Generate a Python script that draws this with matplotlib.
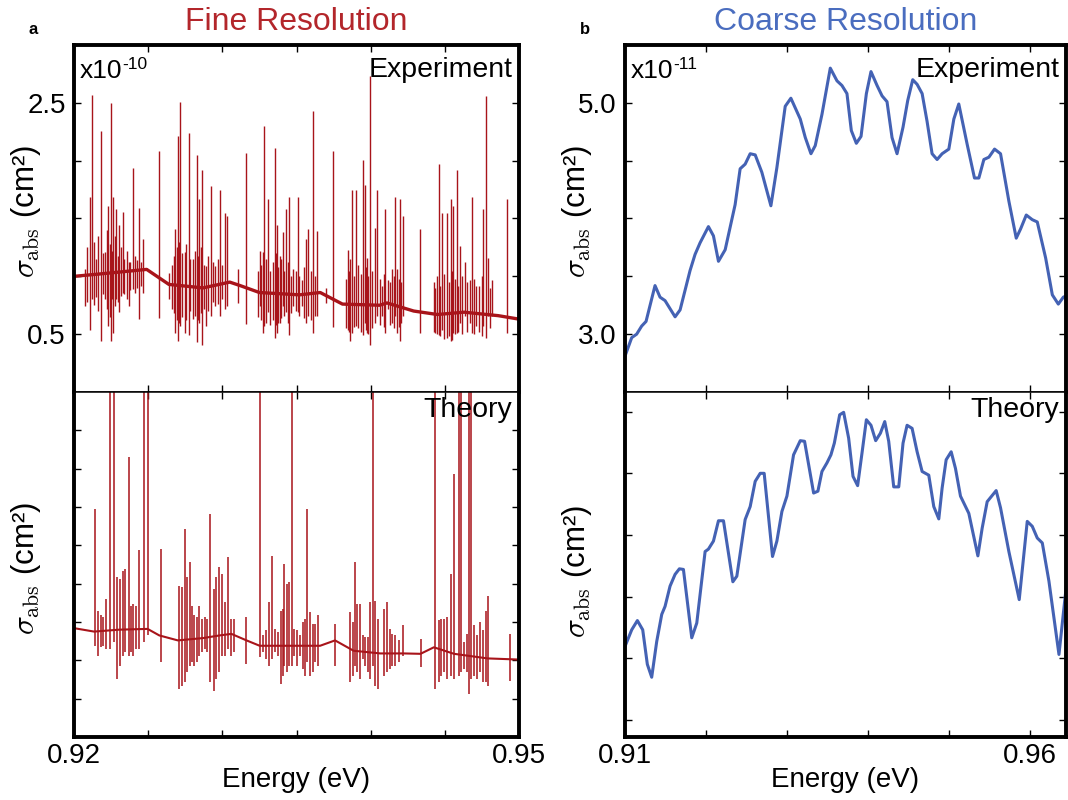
import numpy as np
import matplotlib.pyplot as plt

plt.rcParams['font.family'] = ['Liberation Sans', 'DejaVu Sans']
plt.rcParams['mathtext.fontset'] = 'cm'

RED = '#a8141a'
BLUE = '#4462b4'

# ---- fine resolution, experiment (x1e-10 cm^2) ----
fine_exp_base_e = [0.92000, 0.92170, 0.92490, 0.92640, 0.92870, 0.93050, 0.93120, 0.93250,
                   0.93520, 0.93660, 0.93810, 0.94060, 0.94110, 0.94290, 0.94450, 0.94630,
                   0.94860, 0.95000]
fine_exp_base_v = [1.00, 1.02, 1.06, 0.93, 0.90, 0.95, 0.92, 0.86,
                   0.84, 0.86, 0.76, 0.75, 0.77, 0.70, 0.67, 0.69,
                   0.66, 0.63]
fine_exp_spike_e = [0.92074, 0.92106, 0.92120, 0.92181, 0.92210, 0.92232, 0.92248, 0.92266,
                    0.92282, 0.92305, 0.92327, 0.92368, 0.92395, 0.92440, 0.92463, 0.92571,
                    0.92643, 0.92684, 0.92700, 0.92716, 0.92745, 0.92772, 0.92801, 0.92828,
                    0.92846, 0.92865, 0.92892, 0.92921, 0.92953, 0.92986, 0.93016, 0.93031,
                    0.93106, 0.93158, 0.93252, 0.93271, 0.93282, 0.93309, 0.93354, 0.93370,
                    0.93388, 0.93410, 0.93428, 0.93451, 0.93478, 0.93512, 0.93535, 0.93564,
                    0.93580, 0.93609, 0.93636, 0.93699, 0.93745, 0.93846, 0.93862, 0.93877,
                    0.93902, 0.93948, 0.93959, 0.93975, 0.93995, 0.94026, 0.94042, 0.94076,
                    0.94099, 0.94114, 0.94144, 0.94166, 0.94178, 0.94196, 0.94218, 0.94331,
                    0.94437, 0.94460, 0.94482, 0.94516, 0.94539, 0.94557, 0.94579, 0.94602,
                    0.94634, 0.94670, 0.94686, 0.94708, 0.94760, 0.94776, 0.94791, 0.94821,
                    0.94916]
fine_exp_spike_top = [1.06, 1.69, 2.57, 2.26, 1.21, 1.61, 2.50, 1.69,
                      1.58, 1.44, 1.56, 1.12, 1.94, 1.59, 1.32, 2.08,
                      1.03, 1.41, 2.21, 2.51, 1.21, 2.24, 1.15, 2.05,
                      1.67, 1.92, 1.09, 1.78, 1.09, 1.75, 1.55, 1.52,
                      1.06, 2.07, 1.22, 1.21, 2.30, 1.67, 2.11, 1.44,
                      1.18, 1.38, 1.58, 1.69, 1.06, 1.69, 0.97, 1.32,
                      1.41, 2.43, 1.39, 0.90, 2.08, 1.23, 1.15, 1.75,
                      1.75, 2.01, 1.79, 1.16, 2.73, 1.42, 1.75, 0.92,
                      1.58, 0.97, 1.06, 1.69, 1.06, 1.67, 1.52, 1.41,
                      0.90, 1.97, 1.55, 1.55, 1.67, 1.61, 1.92, 1.26,
                      1.12, 0.97, 1.69, 0.92, 1.58, 2.56, 1.16, 0.97,
                      1.67]
fine_exp_spike_bot = [0.74, 0.54, 0.80, 0.44, 0.80, 0.57, 0.44, 0.51,
                      0.80, 0.69, 0.86, 0.74, 0.89, 0.63, 0.86, 0.64,
                      0.80, 0.51, 0.44, 0.57, 0.51, 0.49, 0.63, 0.43,
                      0.60, 0.41, 0.57, 0.66, 0.74, 0.66, 0.72, 0.74,
                      0.77, 0.59, 0.74, 0.51, 0.57, 0.69, 0.47, 0.51,
                      0.60, 0.74, 0.69, 0.49, 0.74, 0.69, 0.74, 0.60,
                      0.66, 0.51, 0.66, 0.77, 0.56, 0.54, 0.44, 0.51,
                      0.57, 0.49, 0.60, 0.51, 0.41, 0.60, 0.66, 0.66,
                      0.51, 0.72, 0.60, 0.66, 0.51, 0.44, 0.66, 0.51,
                      0.51, 0.49, 0.54, 0.47, 0.44, 0.51, 0.51, 0.60,
                      0.66, 0.60, 0.51, 0.57, 0.57, 0.47, 0.66, 0.66,
                      0.51]
# small lines forming the dense noisy band around the background
fine_exp_small_e = [0.92090, 0.92135, 0.92150, 0.92165, 0.92195, 0.92220, 0.92240, 0.92258,
                    0.92275, 0.92295, 0.92315, 0.92340, 0.92355, 0.92380, 0.92410, 0.92425,
                    0.92452, 0.92660, 0.92675, 0.92692, 0.92708, 0.92730, 0.92758, 0.92785,
                    0.92815, 0.92838, 0.92855, 0.92878, 0.92905, 0.92935, 0.92970, 0.93000,
                    0.93240, 0.93262, 0.93295, 0.93320, 0.93340, 0.93362, 0.93378, 0.93398,
                    0.93418, 0.93440, 0.93465, 0.93495, 0.93520, 0.93550, 0.93595, 0.93622,
                    0.93835, 0.93855, 0.93890, 0.93915, 0.93935, 0.93968, 0.93985, 0.94010,
                    0.94060, 0.94088, 0.94130, 0.94155, 0.94188, 0.94205, 0.94425, 0.94450,
                    0.94470, 0.94495, 0.94525, 0.94548, 0.94568, 0.94590, 0.94615, 0.94650,
                    0.94695, 0.94730, 0.94750, 0.94805]
fine_exp_small_top = [1.25, 1.30, 1.15, 1.35, 1.20, 1.40, 1.28, 1.22,
                      1.35, 1.18, 1.25, 1.15, 1.22, 1.12, 1.18, 1.14,
                      1.12, 1.10, 1.18, 1.25, 1.30, 1.20, 1.28, 1.15,
                      1.22, 1.18, 1.25, 1.10, 1.18, 1.12, 1.15, 1.10,
                      1.05, 1.10, 1.15, 1.05, 1.12, 1.20, 1.08, 1.15,
                      1.05, 1.12, 1.00, 1.05, 1.00, 1.08, 1.05, 1.00,
                      0.98, 1.05, 1.00, 1.10, 1.02, 1.08, 1.00, 1.05,
                      0.98, 1.02, 0.95, 1.00, 0.98, 0.95, 0.95, 1.00,
                      0.92, 1.02, 0.95, 1.05, 0.98, 0.92, 1.00, 0.95,
                      0.98, 0.92, 1.00, 0.90]
fine_exp_small_bot = [0.78, 0.75, 0.82, 0.70, 0.85, 0.72, 0.65, 0.80,
                      0.74, 0.78, 0.83, 0.85, 0.80, 0.88, 0.86, 0.90,
                      0.92, 0.72, 0.68, 0.62, 0.60, 0.65, 0.62, 0.70,
                      0.66, 0.62, 0.68, 0.72, 0.70, 0.78, 0.76, 0.80,
                      0.65, 0.62, 0.60, 0.58, 0.62, 0.58, 0.60, 0.64,
                      0.66, 0.60, 0.68, 0.70, 0.66, 0.64, 0.62, 0.66,
                      0.55, 0.52, 0.56, 0.55, 0.52, 0.54, 0.50, 0.55,
                      0.58, 0.56, 0.58, 0.55, 0.56, 0.60, 0.52, 0.50,
                      0.48, 0.46, 0.48, 0.45, 0.50, 0.52, 0.50, 0.52,
                      0.50, 0.52, 0.48, 0.55]

# ---- fine resolution, theory (arb. units) ----
fine_th_base_e = [0.92000, 0.92135, 0.92305, 0.92496, 0.92575, 0.92700, 0.92869, 0.92982,
                  0.93061, 0.93163, 0.93252, 0.93659, 0.93760, 0.93885, 0.94065, 0.94223,
                  0.94336, 0.94426, 0.94562, 0.94788, 0.95002]
fine_th_base_v = [2.84, 2.75, 2.80, 2.82, 2.65, 2.52, 2.58, 2.65,
                  2.69, 2.52, 2.38, 2.38, 2.52, 2.25, 2.18, 2.18,
                  2.17, 2.34, 2.17, 2.05, 2.02]
fine_th_spike_e = [0.92142, 0.92165, 0.92181, 0.92196, 0.92215, 0.92240, 0.92268, 0.92293,
                   0.92309, 0.92327, 0.92345, 0.92368, 0.92384, 0.92401, 0.92418, 0.92440,
                   0.92470, 0.92496, 0.92587, 0.92711, 0.92729, 0.92745, 0.92760, 0.92779,
                   0.92797, 0.92812, 0.92828, 0.92846, 0.92865, 0.92880, 0.92898, 0.92914,
                   0.92941, 0.92959, 0.92977, 0.93000, 0.93018, 0.93038, 0.93061, 0.93076,
                   0.93158, 0.93252, 0.93275, 0.93293, 0.93315, 0.93338, 0.93354, 0.93372,
                   0.93393, 0.93406, 0.93417, 0.93433, 0.93449, 0.93467, 0.93483, 0.93501,
                   0.93523, 0.93541, 0.93557, 0.93573, 0.93591, 0.93609, 0.93625, 0.93647,
                   0.93760, 0.93862, 0.93880, 0.93896, 0.93911, 0.93929, 0.93948, 0.93963,
                   0.93979, 0.93997, 0.94015, 0.94031, 0.94047, 0.94087, 0.94110, 0.94128,
                   0.94144, 0.94166, 0.94189, 0.94218, 0.94336, 0.94437, 0.94460, 0.94476,
                   0.94493, 0.94516, 0.94539, 0.94561, 0.94595, 0.94611, 0.94629, 0.94647,
                   0.94663, 0.94679, 0.94697, 0.94720, 0.94737, 0.94760, 0.94776, 0.94791,
                   0.94940]
fine_th_spike_top = [5.95, 3.30, 3.17, 3.12, 3.60, 9.60, 9.60, 4.17,
                     4.13, 4.34, 4.39, 7.30, 3.43, 3.47, 3.43, 4.87,
                     9.60, 9.60, 4.91, 3.95, 3.91, 5.43, 4.17, 4.56,
                     3.43, 3.17, 3.12, 3.43, 3.08, 3.12, 3.08, 5.82,
                     3.86, 4.17, 4.43, 4.26, 3.52, 4.69, 3.08, 3.08,
                     3.12, 9.60, 2.65, 2.78, 3.52, 4.73, 2.82, 2.73,
                     3.30, 3.34, 4.52, 3.99, 4.04, 9.60, 2.82, 2.78,
                     2.65, 2.99, 3.08, 5.95, 3.26, 2.95, 2.95, 3.17,
                     2.95, 3.26, 2.99, 4.56, 3.47, 3.47, 2.65, 2.60,
                     2.60, 3.52, 9.60, 3.56, 3.08, 3.34, 3.52, 2.82,
                     2.69, 2.65, 2.52, 2.91, 2.56, 9.60, 3.04, 3.08,
                     3.08, 3.12, 4.26, 6.87, 9.60, 9.60, 2.47, 2.69,
                     9.60, 9.60, 2.91, 2.65, 2.99, 2.78, 3.30, 3.69,
                     2.69]
fine_th_spike_bot = [2.38, 2.12, 2.34, 2.38, 2.30, 2.30, 2.47, 1.51,
                     1.86, 2.12, 2.21, 2.12, 2.21, 2.12, 2.30, 2.30,
                     2.47, 2.65, 1.95, 1.25, 1.34, 1.43, 1.69, 1.86,
                     1.95, 1.86, 1.95, 2.12, 2.21, 2.30, 2.21, 1.43,
                     1.21, 1.51, 1.69, 2.12, 2.12, 2.30, 2.12, 2.21,
                     1.91, 2.08, 2.21, 2.04, 1.86, 2.04, 2.21, 2.12,
                     1.38, 1.60, 1.86, 1.69, 1.86, 1.86, 2.12, 1.86,
                     2.12, 1.78, 1.60, 1.95, 1.60, 1.69, 1.95, 1.86,
                     1.86, 1.43, 1.60, 1.86, 1.69, 1.51, 2.04, 1.86,
                     1.69, 1.51, 1.86, 1.34, 1.25, 1.60, 1.69, 1.78,
                     1.86, 1.86, 1.95, 2.12, 1.82, 1.25, 1.43, 1.60,
                     1.69, 1.51, 1.60, 1.51, 1.60, 1.69, 1.78, 1.69,
                     1.12, 1.51, 1.60, 1.51, 1.69, 1.43, 1.43, 1.34,
                     1.47]

# ---- coarse resolution, experiment (x1e-11 cm^2) ----
coarse_exp_e = [0.91000, 0.91083, 0.91144, 0.91206, 0.91260, 0.91371, 0.91433, 0.91495,
                0.91619, 0.91681, 0.91804, 0.91866, 0.91928, 0.92031, 0.92093, 0.92155,
                0.92238, 0.92361, 0.92423, 0.92485, 0.92547, 0.92609, 0.92691, 0.92803,
                0.92877, 0.92980, 0.93050, 0.93166, 0.93228, 0.93298, 0.93351, 0.93434,
                0.93537, 0.93620, 0.93681, 0.93743, 0.93797, 0.93859, 0.93917, 0.93983,
                0.94040, 0.94115, 0.94177, 0.94238, 0.94300, 0.94362, 0.94436, 0.94494,
                0.94556, 0.94610, 0.94672, 0.94733, 0.94795, 0.94857, 0.94919, 0.95002,
                0.95064, 0.95125, 0.95229, 0.95319, 0.95373, 0.95435, 0.95497, 0.95567,
                0.95641, 0.95744, 0.95835, 0.95889, 0.95959, 0.96033, 0.96095, 0.96198,
                0.96281, 0.96355, 0.96417, 0.96483]
coarse_exp_v = [2.81, 2.97, 3.00, 3.07, 3.11, 3.42, 3.32, 3.29,
                3.15, 3.21, 3.55, 3.69, 3.79, 3.93, 3.85, 3.63,
                3.73, 4.12, 4.43, 4.47, 4.56, 4.55, 4.40, 4.11,
                4.44, 4.97, 5.04, 4.86, 4.70, 4.56, 4.63, 4.90,
                5.30, 5.19, 5.15, 5.08, 4.76, 4.65, 4.71, 5.08,
                5.27, 5.15, 5.06, 5.01, 4.70, 4.56, 4.79, 5.02,
                5.20, 5.16, 5.08, 4.84, 4.56, 4.51, 4.56, 4.60,
                4.86, 4.99, 4.64, 4.35, 4.35, 4.51, 4.53, 4.60,
                4.56, 4.15, 3.83, 3.91, 4.03, 3.99, 3.97, 3.66,
                3.34, 3.26, 3.32, 3.34]

# ---- coarse resolution, theory (arb. units) ----
coarse_th_e = [0.91000, 0.91083, 0.91153, 0.91219, 0.91276, 0.91330, 0.91392, 0.91454,
               0.91495, 0.91557, 0.91619, 0.91672, 0.91722, 0.91825, 0.91887, 0.91990,
               0.92031, 0.92093, 0.92155, 0.92217, 0.92333, 0.92382, 0.92485, 0.92547,
               0.92609, 0.92671, 0.92720, 0.92823, 0.92877, 0.92939, 0.93001, 0.93083,
               0.93166, 0.93219, 0.93331, 0.93384, 0.93434, 0.93496, 0.93545, 0.93587,
               0.93653, 0.93702, 0.93764, 0.93818, 0.93875, 0.93929, 0.93983, 0.94040,
               0.94098, 0.94156, 0.94210, 0.94259, 0.94321, 0.94383, 0.94436, 0.94486,
               0.94548, 0.94610, 0.94672, 0.94754, 0.94816, 0.94878, 0.94919, 0.94969,
               0.95031, 0.95084, 0.95146, 0.95249, 0.95361, 0.95414, 0.95476, 0.95587,
               0.95641, 0.95744, 0.95872, 0.95971, 0.96033, 0.96095, 0.96157, 0.96239,
               0.96363, 0.96425, 0.96483]
coarse_th_v = [1.19, 1.46, 1.61, 1.46, 0.90, 0.69, 1.27, 1.71,
               1.84, 2.17, 2.36, 2.45, 2.44, 1.33, 1.57, 2.73,
               2.77, 2.90, 3.23, 3.23, 2.24, 2.33, 3.25, 3.46,
               3.87, 4.00, 4.00, 2.65, 2.90, 3.38, 3.63, 4.30,
               4.53, 4.52, 3.68, 3.71, 4.03, 4.17, 4.30, 4.49,
               4.95, 4.99, 4.57, 3.95, 3.80, 4.33, 4.87, 4.78,
               4.53, 4.65, 4.84, 4.52, 3.78, 3.78, 4.49, 4.78,
               4.73, 4.35, 4.03, 3.97, 3.46, 3.26, 3.76, 4.22,
               4.35, 4.08, 3.63, 3.35, 2.66, 3.11, 3.54, 3.72,
               3.44, 2.73, 1.95, 3.22, 3.14, 2.95, 2.87, 2.25,
               1.06, 1.82, 2.52]

fig = plt.figure(figsize=(10.68, 8), dpi=100)

L0, LW = 74 / 1068, 445 / 1068
R0, RW = 625 / 1068, 441 / 1068
TOP_B, TOP_H = 1 - 392 / 800, 347 / 800
BOT_B, BOT_H = 1 - 737 / 800, 345 / 800

ax_a1 = fig.add_axes([L0, TOP_B, LW, TOP_H])
ax_a2 = fig.add_axes([L0, BOT_B, LW, BOT_H])
ax_b1 = fig.add_axes([R0, TOP_B, RW, TOP_H])
ax_b2 = fig.add_axes([R0, BOT_B, RW, BOT_H])

# fine spectra: smooth background + sharp lines
ax_a1.plot(fine_exp_base_e, fine_exp_base_v, color=RED, lw=2.4)
ax_a1.vlines(fine_exp_small_e, fine_exp_small_bot, fine_exp_small_top, color=RED, lw=1.0)
ax_a1.vlines(fine_exp_spike_e, fine_exp_spike_bot, fine_exp_spike_top, color=RED, lw=1.0)
ax_a2.plot(fine_th_base_e, fine_th_base_v, color=RED, lw=1.5)
ax_a2.vlines(fine_th_spike_e, fine_th_spike_bot, fine_th_spike_top, color=RED, lw=1.1)

ax_b1.plot(coarse_exp_e, coarse_exp_v, color=BLUE, lw=2.2)
ax_b2.plot(coarse_th_e, coarse_th_v, color=BLUE, lw=2.2)

# limits and ticks
for ax in (ax_a1, ax_a2):
    ax.set_xlim(0.92, 0.95)
    ax.set_xticks(np.arange(0.92, 0.95001, 0.005))
for ax in (ax_b1, ax_b2):
    ax.set_xlim(0.91, 0.9645)
    ax.set_xticks(np.arange(0.91, 0.96001, 0.01))

ax_a1.set_ylim(0, 3.0)
ax_a1.set_yticks(np.arange(0.5, 2.501, 0.5))
ax_a1.set_yticklabels(['0.5', '', '', '', '2.5'])
ax_a2.set_ylim(0, 9)
ax_a2.set_yticks(np.arange(1, 9))
ax_a2.set_yticklabels([])

ax_b1.set_ylim(2.5, 5.5)
ax_b1.set_yticks(np.arange(3.0, 5.001, 0.5))
ax_b1.set_yticklabels(['3.0', '', '', '', '5.0'])
ax_b2.set_ylim(-0.28, 5.32)
ax_b2.set_yticks(np.arange(0, 6))
ax_b2.set_yticklabels([])

ax_a1.set_xticklabels([])
ax_b1.set_xticklabels([])
ax_a2.set_xticklabels(['0.92', '', '', '', '', '', '0.95'])
ax_b2.set_xticklabels(['0.91', '', '', '', '', '0.96'])

for ax in (ax_a1, ax_a2, ax_b1, ax_b2):
    ax.tick_params(direction='in', top=True, right=True, length=5, width=1,
                   labelsize=20, pad=6)
    for s in ax.spines.values():
        s.set_linewidth(2.8)
for ax in (ax_a1, ax_b1):
    ax.spines['bottom'].set_linewidth(1.1)
for ax in (ax_a2, ax_b2):
    ax.spines['top'].set_linewidth(1.1)
    ax.tick_params(axis='x', pad=4)

# labels
ylab = r'$\sigma_{\rm abs}$ (cm²)'
for ax, yc in ((ax_a1, 0.52), (ax_a2, 0.49), (ax_b1, 0.52), (ax_b2, 0.48)):
    ax.set_ylabel(ylab, fontsize=22.5)
    ax.yaxis.set_label_coords(-0.07, yc)
for ax in (ax_a2, ax_b2):
    ax.set_xlabel('Energy (eV)', fontsize=20)
    ax.xaxis.set_label_coords(0.5, -0.088)

for ax in (ax_a1, ax_b1):
    ax.text(0.985, 0.928, 'Experiment', transform=ax.transAxes, ha='right',
            va='center', fontsize=20.5)
for ax in (ax_a2, ax_b2):
    ax.text(0.985, 0.948, 'Theory', transform=ax.transAxes, ha='right',
            va='center', fontsize=20.5)

for ax, exp in ((ax_a1, '-10'), (ax_b1, '-11')):
    t = ax.text(0.012, 0.925, 'x10', transform=ax.transAxes,
                ha='left', va='center', fontsize=19)
    ax.annotate(exp, xy=(1.0, 0.78), xycoords=t, ha='left', va='center',
                fontsize=12.5)

fig.text(L0 + LW / 2, 1 - 22 / 800, 'Fine Resolution', ha='center', va='center',
         fontsize=23, color='#b3262b')
fig.text(R0 + RW / 2, 1 - 22 / 800, 'Coarse Resolution', ha='center', va='center',
         fontsize=23, color='#4a6dbf')
fig.text(33 / 1068, 1 - 30 / 800, 'a', ha='center', va='center', fontsize=12,
         fontweight='bold')
fig.text(585 / 1068, 1 - 30 / 800, 'b', ha='center', va='center', fontsize=12,
         fontweight='bold')

fig.savefig('out.png', dpi=100)
